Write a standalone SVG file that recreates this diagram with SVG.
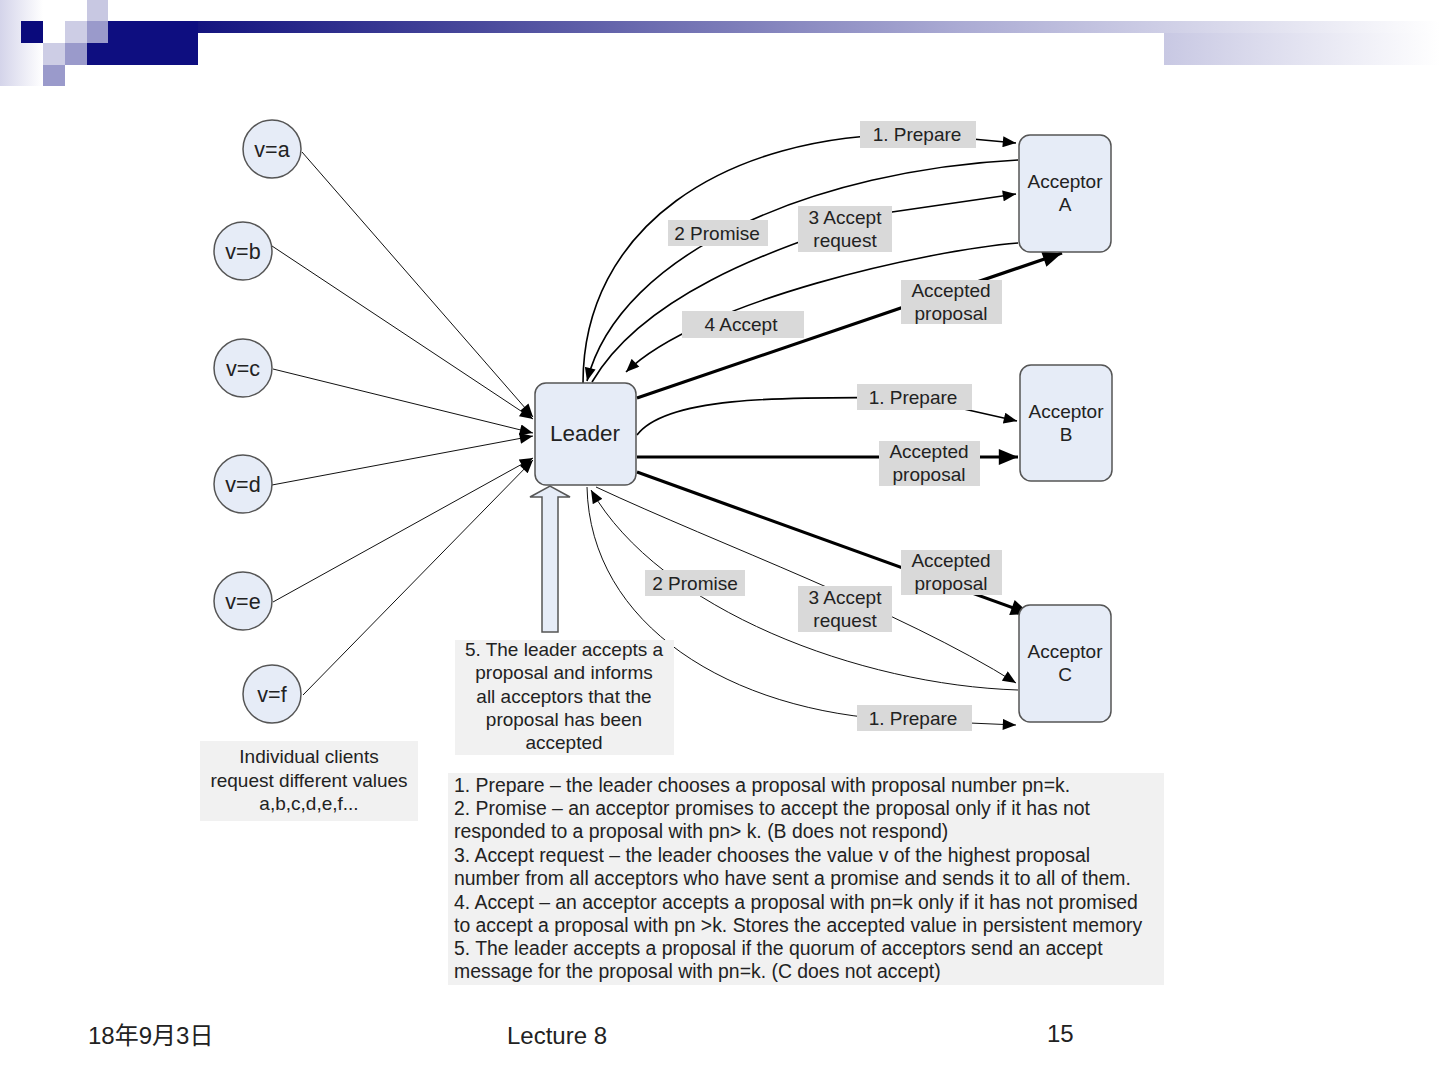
<svg xmlns="http://www.w3.org/2000/svg" width="1440" height="1080" viewBox="0 0 1440 1080">
<style>
text{font-family:"Liberation Sans",Arial,sans-serif;fill:#222}
.node{fill:#e6ecf7;stroke:#555;stroke-width:1.5}
.lbl{fill:#d9d9d9}
.box{fill:#f1f1f1}
.t19{font-size:19px;text-anchor:middle}
.t21{font-size:21.5px;text-anchor:middle}
.thin{stroke:#111;stroke-width:1;fill:none}
.med{stroke:#000;stroke-width:1.6;fill:none}
.thick{stroke:#000;stroke-width:3.2;fill:none}
.body{font-size:19.4px}
.foot{font-size:24px}
</style>
<defs>
<marker id="ah" viewBox="0 0 12 10" refX="12" refY="5" markerWidth="14" markerHeight="11" markerUnits="userSpaceOnUse" orient="auto"><path d="M0,0 L12,5 L0,10 z" fill="#000"/></marker>
<marker id="ahb" viewBox="0 0 12 10" refX="12" refY="5" markerWidth="24" markerHeight="16" markerUnits="userSpaceOnUse" orient="auto"><path d="M0,0 L12,5 L0,10 z" fill="#000"/></marker>
<linearGradient id="gbar" x1="198" y1="0" x2="1440" y2="0" gradientUnits="userSpaceOnUse">
<stop offset="0" stop-color="#14147f"/><stop offset="0.23" stop-color="#4a4a9c"/><stop offset="0.61" stop-color="#aaaad3"/><stop offset="1" stop-color="#ffffff"/>
</linearGradient>
<linearGradient id="gblk" x1="1164" y1="0" x2="1440" y2="0" gradientUnits="userSpaceOnUse">
<stop offset="0" stop-color="#c8c8e3"/><stop offset="1" stop-color="#ffffff"/>
</linearGradient>
<linearGradient id="gleft" x1="0" y1="0" x2="43" y2="0" gradientUnits="userSpaceOnUse">
<stop offset="0" stop-color="#d4d4ea"/><stop offset="1" stop-color="#ffffff"/>
</linearGradient>
</defs>
<rect width="1440" height="1080" fill="#fff"/>
<g id="header">
<rect x="0" y="0" width="43" height="86" fill="url(#gleft)"/>
<rect x="87" y="0" width="21" height="21" fill="#c8c8e2"/>
<rect x="21" y="21" width="22" height="22" fill="#0a0a7c"/>
<rect x="65" y="21" width="22" height="22" fill="#cdcde5"/>
<rect x="87" y="21" width="21" height="22" fill="#9a9acb"/>
<rect x="43" y="43" width="22" height="22" fill="#cdcde5"/>
<rect x="65" y="43" width="22" height="22" fill="#9a9acb"/>
<rect x="43" y="65" width="22" height="21" fill="#9a9acb"/>
<rect x="108" y="21" width="90" height="22" fill="#0e0e80"/>
<rect x="87" y="43" width="111" height="22" fill="#0e0e80"/>
<rect x="198" y="21" width="1242" height="12" fill="url(#gbar)"/>
<rect x="1164" y="33" width="276" height="32" fill="url(#gblk)"/>
</g>
<g id="connectors">
<path class="thin" d="M302,152 L533,417" marker-end="url(#ah)"/>
<path class="thin" d="M272,246 L533,419" marker-end="url(#ah)"/>
<path class="thin" d="M273,369 L533,433" marker-end="url(#ah)"/>
<path class="thin" d="M272,485 L533,436" marker-end="url(#ah)"/>
<path class="thin" d="M273,602 L533,458" marker-end="url(#ah)"/>
<path class="thin" d="M303,695 L533,460" marker-end="url(#ah)"/>
<path class="med" d="M583,383 C583,230 720,133 918,134 L1016,143" marker-end="url(#ah)"/>
<path class="med" d="M1018,160 C820,170 620,250 587,381" marker-end="url(#ah)"/>
<path class="med" d="M592,382 C640,300 760,250 892,212 L1016,194" marker-end="url(#ah)"/>
<path class="med" d="M1018,243 C930,250 700,300 626,372" marker-end="url(#ah)"/>
<path class="thick" d="M637,398 L1062,253" marker-end="url(#ahb)"/>
<path class="med" d="M637,435 C665,398 770,396 915,398 L1017,421" marker-end="url(#ah)"/>
<path class="thick" d="M637,457 L1018,457" marker-end="url(#ahb)"/>
<path class="thick" d="M637,472 L1030,614" marker-end="url(#ahb)"/>
<path class="thin" d="M596,487 C720,545 900,610 1016,683" marker-end="url(#ah)"/>
<path class="thin" d="M1018,690 C860,685 660,610 591,490" marker-end="url(#ah)"/>
<path class="thin" d="M587,487 C590,625 730,712 900,720 L1016,725" marker-end="url(#ah)"/>
</g>
<g id="labels">
<rect class="lbl" x="860" y="121" width="116" height="27"/><text class="t19" x="917" y="141">1. Prepare</text>
<rect class="lbl" x="668" y="220" width="100" height="26"/><text class="t19" x="717" y="240">2 Promise</text>
<rect class="lbl" x="798" y="206" width="94" height="46"/><text class="t19" x="845" y="224">3 Accept</text><text class="t19" x="845" y="247">request</text>
<rect class="lbl" x="682" y="311" width="122" height="27"/><text class="t19" x="741" y="331">4 Accept</text>
<rect class="lbl" x="901" y="280" width="101" height="44"/><text class="t19" x="951" y="297">Accepted</text><text class="t19" x="951" y="320">proposal</text>
<rect class="lbl" x="857" y="384" width="115" height="26"/><text class="t19" x="913" y="404">1. Prepare</text>
<rect class="lbl" x="879" y="441" width="101" height="45"/><text class="t19" x="929" y="458">Accepted</text><text class="t19" x="929" y="481">proposal</text>
<rect class="lbl" x="901" y="550" width="101" height="45"/><text class="t19" x="951" y="567">Accepted</text><text class="t19" x="951" y="590">proposal</text>
<rect class="lbl" x="645" y="570" width="100" height="26"/><text class="t19" x="695" y="590">2 Promise</text>
<rect class="lbl" x="798" y="586" width="94" height="46"/><text class="t19" x="845" y="604">3 Accept</text><text class="t19" x="845" y="627">request</text>
<rect class="lbl" x="857" y="705" width="115" height="26"/><text class="t19" x="913" y="725">1. Prepare</text>
</g>
<g id="client-a"><circle class="node" cx="272" cy="149" r="29"/><text class="t21" x="272" y="157">v=a</text></g>
<g id="client-b"><circle class="node" cx="243" cy="251" r="29"/><text class="t21" x="243" y="259">v=b</text></g>
<g id="client-c"><circle class="node" cx="243" cy="368" r="29"/><text class="t21" x="243" y="376">v=c</text></g>
<g id="client-d"><circle class="node" cx="243" cy="484" r="29"/><text class="t21" x="243" y="492">v=d</text></g>
<g id="client-e"><circle class="node" cx="243" cy="601" r="29"/><text class="t21" x="243" y="609">v=e</text></g>
<g id="client-f"><circle class="node" cx="272" cy="694" r="29"/><text class="t21" x="272" y="702">v=f</text></g>
<g id="leader"><rect class="node" x="535" y="383" width="101" height="102" rx="11"/><text x="585" y="441" style="font-size:22.5px;text-anchor:middle">Leader</text></g>
<g id="acceptor-a"><rect class="node" x="1019" y="135" width="92" height="117" rx="11"/><text class="t19" x="1065" y="188">Acceptor</text><text class="t19" x="1065" y="211">A</text></g>
<g id="acceptor-b"><rect class="node" x="1020" y="365" width="92" height="116" rx="11"/><text class="t19" x="1066" y="418">Acceptor</text><text class="t19" x="1066" y="441">B</text></g>
<g id="acceptor-c"><rect class="node" x="1019" y="605" width="92" height="117" rx="11"/><text class="t19" x="1065" y="658">Acceptor</text><text class="t19" x="1065" y="681">C</text></g>
<g id="commit-arrow"><path class="node" d="M542,632 L542,497 L530,497 L550,486 L570,497 L558,497 L558,632 Z"/></g>
<g id="note-5"><rect class="box" x="455" y="640" width="219" height="115"/>
<text class="t19" x="564" y="656">5. The leader accepts a</text>
<text class="t19" x="564" y="679">proposal and informs</text>
<text class="t19" x="564" y="703">all acceptors that the</text>
<text class="t19" x="564" y="726">proposal has been</text>
<text class="t19" x="564" y="749">accepted</text></g>
<g id="note-clients"><rect class="box" x="200" y="741" width="218" height="80"/>
<text class="t19" x="309" y="763">Individual clients</text>
<text class="t19" x="309" y="787">request different values</text>
<text class="t19" x="309" y="810">a,b,c,d,e,f...</text></g>
<g id="legend"><rect class="box" x="448" y="773" width="716" height="212"/>
<text class="body" x="454" y="792">1. Prepare – the leader chooses a proposal with proposal number pn=k.</text>
<text class="body" x="454" y="815">2. Promise – an acceptor promises to accept the proposal only if it has not</text>
<text class="body" x="454" y="838">responded to a proposal with pn&gt; k. (B does not respond)</text>
<text class="body" x="454" y="862">3. Accept request – the leader chooses the value v of the highest proposal</text>
<text class="body" x="454" y="885">number from all acceptors who have sent a promise and sends it to all of them.</text>
<text class="body" x="454" y="909">4. Accept – an acceptor accepts a proposal with pn=k only if it has not promised</text>
<text class="body" x="454" y="932">to accept a proposal with pn &gt;k. Stores the accepted value in persistent memory</text>
<text class="body" x="454" y="955">5. The leader accepts a proposal if the quorum of acceptors send an accept</text>
<text class="body" x="454" y="978">message for the proposal with pn=k. (C does not accept)</text></g>
<g id="footer">
<text class="foot" x="88" y="1044" style="font-family:'Liberation Sans','Noto Sans CJK SC',sans-serif">18年9月3日</text>
<text class="foot" x="507" y="1044">Lecture 8</text>
<text class="foot" x="1047" y="1042">15</text>
</g>
</svg>
